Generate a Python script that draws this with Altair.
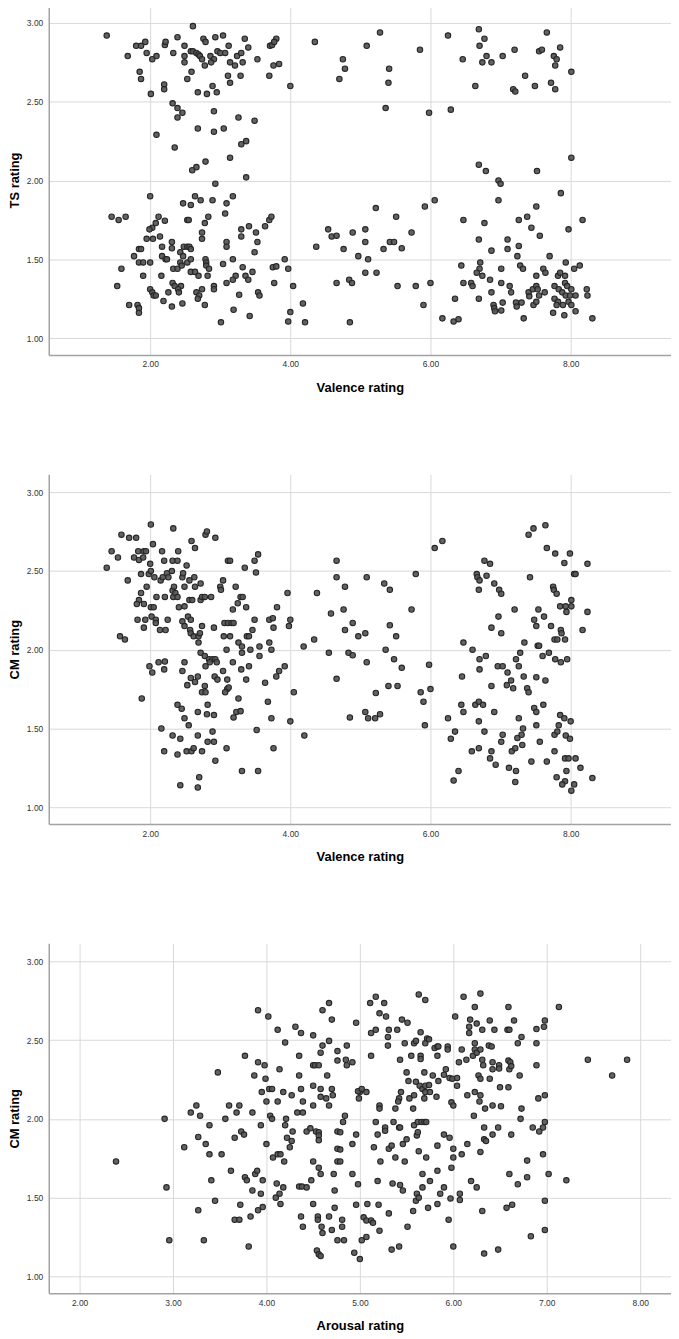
import altair as alt
import pandas as pd

# Panel 1: Valence rating vs TS rating
panel1_points = [
(1.38,2.92),(2.61,2.98),(2.39,2.91),(2.76,2.90),(2.93,2.91),(3.04,2.92),(3.35,2.90),(3.80,2.90),(4.35,2.88),(2.79,2.88),
(1.80,2.855),(1.87,2.855),(1.93,2.88),(2.21,2.86),(2.22,2.88),(2.49,2.855),(3.12,2.855),(3.40,2.845),(3.71,2.855),(3.74,2.86),(3.77,2.88),
(1.95,2.81),(2.33,2.81),(2.58,2.82),(2.61,2.82),(2.66,2.81),(2.69,2.80),(2.71,2.79),(2.96,2.82),(3.00,2.81),(3.07,2.81),(3.24,2.79),(3.30,2.81),
(1.68,2.79),(2.03,2.77),(2.09,2.79),(2.49,2.79),(2.49,2.75),(2.74,2.77),(2.86,2.79),(2.91,2.77),(2.87,2.75),(2.78,2.73),(3.14,2.75),(3.21,2.73),(3.32,2.75),(3.53,2.77),(3.76,2.73),(3.84,2.74),
(1.85,2.69),(1.87,2.645),(2.59,2.69),(2.53,2.645),(3.11,2.665),(3.14,2.62),(3.29,2.665),(3.70,2.665),(2.20,2.61),(2.20,2.58),(2.89,2.60),(2.68,2.56),(2.81,2.55),(2.95,2.56),(4.00,2.60),(2.01,2.55),
(2.32,2.49),(2.39,2.46),(2.46,2.43),(2.39,2.40),(2.91,2.44),(3.26,2.40),(3.49,2.38),(2.68,2.33),(2.91,2.31),(3.05,2.33),(2.09,2.29),(3.37,2.25),(3.30,2.23),(2.35,2.21),(3.14,2.145),(2.79,2.12),(2.66,2.085),(2.60,2.065),(3.37,2.02),(2.93,1.98),
(2.00,1.90),(2.64,1.90),(2.72,1.875),(2.89,1.875),(3.18,1.90),(2.47,1.855),(2.58,1.845),(3.09,1.855),(3.07,1.79),
(1.45,1.77),(1.55,1.75),(1.65,1.77),(2.12,1.77),(2.21,1.745),(2.53,1.75),(2.55,1.75),(2.83,1.77),(2.78,1.73),(2.74,1.67),(2.74,1.63),(2.08,1.73),(2.03,1.70),(1.99,1.69),(1.95,1.63),(2.14,1.645),(2.04,1.63),(3.30,1.69),(3.30,1.645),(3.41,1.71),(3.51,1.67),(3.64,1.71),(3.70,1.75),(3.73,1.77),
(3.09,1.61),(3.09,1.58),(3.53,1.61),(3.49,1.545),(2.17,1.58),(2.31,1.61),(2.31,1.57),(2.48,1.58),(2.53,1.58),(2.56,1.58),(2.58,1.565),(2.43,1.545),(2.47,1.52),(1.84,1.565),(1.87,1.565),(1.77,1.52),(2.17,1.52),(2.22,1.50),(2.24,1.50),
(1.84,1.48),(1.90,1.48),(2.00,1.48),(2.43,1.48),(2.53,1.48),(2.58,1.50),(2.79,1.50),(2.80,1.48),(2.80,1.46),(2.84,1.44),(3.18,1.50),(3.04,1.47),(3.92,1.50),(3.97,1.44),(1.59,1.44),(2.33,1.44),(2.39,1.44),(2.45,1.46),(3.32,1.45),(3.46,1.42),(3.75,1.45),(3.80,1.455),
(1.90,1.395),(2.16,1.395),(2.58,1.42),(2.64,1.42),(2.69,1.395),(2.82,1.395),(3.22,1.395),(3.36,1.395),(3.40,1.37),(3.18,1.37),(3.09,1.35),(3.77,1.35),(1.53,1.33),(2.32,1.35),(2.35,1.33),(2.44,1.33),
(2.00,1.31),(2.03,1.29),(2.05,1.27),(2.08,1.27),(2.40,1.31),(2.41,1.29),(2.26,1.29),(2.91,1.33),(2.91,1.31),(2.66,1.29),(2.74,1.31),(2.70,1.27),(2.68,1.25),(3.27,1.275),(3.54,1.29),(3.56,1.27),(4.04,1.33),
(2.19,1.235),(1.70,1.21),(1.82,1.21),(1.84,1.19),(1.84,1.16),(2.31,1.20),(2.46,1.22),(2.78,1.21),(3.19,1.18),(3.42,1.14),(4.18,1.22),(4.00,1.165),(3.97,1.105),(4.21,1.10),(3.01,1.10),
(4.37,1.58),(4.54,1.69),(4.59,1.645),(4.66,1.65),(4.66,1.35),(4.70,2.645),
(4.75,2.77),(4.78,2.71),(5.09,2.855),(5.28,2.94),(5.41,2.71),(5.40,2.62),(5.36,2.46),(5.85,2.83),(5.98,2.43),(6.25,2.92),(6.29,2.45),(6.46,2.77),(6.64,2.60),(6.69,2.96),(6.70,2.855),(6.77,2.90),(6.74,2.75),(6.80,2.79),(6.87,2.75),(7.03,2.79),(7.20,2.83),(7.18,2.58),(7.21,2.565),(7.35,2.665),(7.49,2.60),(7.55,2.82),(7.59,2.83),(7.66,2.94),(7.72,2.62),(7.76,2.79),(7.80,2.77),(7.78,2.73),(7.78,2.58),(7.85,2.845),(8.01,2.69),
(8.01,2.145),(6.69,2.10),(6.79,2.06),(6.97,2.00),(7.00,1.98),(6.97,1.875),(7.52,2.06),(7.86,1.92),(6.06,1.875),(5.92,1.835),(5.22,1.825),(5.51,1.77),(4.89,1.67),(5.07,1.69),(5.07,1.61),(4.76,1.565),(4.97,1.52),(5.11,1.50),(5.33,1.565),(5.42,1.61),(5.48,1.61),(5.59,1.57),(5.73,1.67),(5.07,1.415),(5.23,1.415),(4.84,1.37),(4.88,1.35),(5.53,1.33),(5.79,1.33),(6.00,1.35),(5.90,1.21),(4.85,1.10),
(6.47,1.75),(6.77,1.73),(6.69,1.625),(6.87,1.555),(7.10,1.625),(7.10,1.565),(7.26,1.75),(7.38,1.77),(7.44,1.70),(7.51,1.835),(7.56,1.65),(7.26,1.585),(7.24,1.52),(7.70,1.52),(7.97,1.69),(8.17,1.75),
(6.44,1.46),(6.71,1.48),(6.70,1.44),(6.66,1.415),(6.74,1.395),(6.85,1.37),(7.01,1.44),(7.28,1.46),(7.32,1.44),(6.47,1.35),(6.58,1.35),(6.60,1.33),(7.01,1.35),(7.13,1.33),(7.15,1.29),(6.87,1.29),(6.69,1.25),(6.35,1.25),(6.17,1.125),(6.33,1.105),(6.40,1.12),
(6.90,1.21),(6.91,1.19),(6.92,1.17),(7.01,1.175),(7.03,1.225),(7.22,1.225),(7.23,1.20),(7.30,1.225),(7.33,1.125),(7.40,1.29),(7.41,1.265),(7.47,1.21),(7.51,1.23),(7.46,1.31),(7.51,1.33),(7.53,1.31),(7.55,1.27),(7.63,1.29),(7.51,1.395),(7.61,1.44),(7.64,1.415),(7.82,1.395),(7.85,1.415),(7.93,1.48),(8.05,1.44),(8.13,1.46),
(7.77,1.33),(7.83,1.31),(7.92,1.35),(7.95,1.33),(8.01,1.31),(7.88,1.29),(7.93,1.27),(7.99,1.27),(8.07,1.27),(7.77,1.25),(7.82,1.23),(7.89,1.21),(7.97,1.23),(8.01,1.21),(7.80,1.21),(7.75,1.16),(7.91,1.145),(8.07,1.17),(8.23,1.31),(8.24,1.27),(8.31,1.125),(7.92,1.395),
]

# Panel 2: Valence rating vs CM rating
panel2_points = [
(1.38,2.52),(1.45,2.625),(1.54,2.585),(1.59,2.73),(1.68,2.44),(1.70,2.71),(1.80,2.71),(1.77,2.585),(1.83,2.625),(1.84,2.57),(1.90,2.585),(1.91,2.625),(1.94,2.625),(1.87,2.48),(1.98,2.48),(2.00,2.545),(2.01,2.50),(2.01,2.795),(2.04,2.67),(1.95,2.40),(1.87,2.36),(1.84,2.315),(1.81,2.29),(1.91,2.29),(2.01,2.27),(2.05,2.27),(2.02,2.21),(2.08,2.19),(2.08,2.17),(1.82,2.19),(1.93,2.19),(1.91,2.14),(1.57,2.085),(1.64,2.065),
(2.06,2.46),(2.09,2.335),(2.17,2.625),(2.20,2.565),(2.15,2.44),(2.18,2.46),(2.24,2.485),(2.26,2.46),(2.21,2.335),(2.31,2.50),(2.32,2.565),(2.33,2.77),(2.39,2.565),(2.40,2.625),(2.32,2.375),(2.34,2.40),(2.33,2.335),(2.36,2.36),(2.39,2.335),(2.41,2.27),(2.46,2.46),(2.47,2.485),(2.52,2.535),(2.49,2.40),(2.49,2.275),
(2.25,2.19),(2.14,2.125),(2.22,2.125),(2.46,2.18),(2.49,2.15),(2.54,2.21),(2.58,2.19),(2.56,2.315),(2.60,2.315),(2.56,2.44),(2.63,2.46),(2.64,2.40),(2.59,2.69),(2.64,2.645),(2.72,2.42),(2.72,2.315),(2.74,2.335),(2.78,2.335),(2.87,2.335),(3.04,2.44),(3.00,2.40),(3.01,2.38),(3.11,2.565),(3.14,2.565),(3.35,2.52),(3.22,2.40),(3.49,2.565),(3.54,2.605),(3.51,2.49),(2.79,2.73),(2.81,2.75),(2.93,2.71),
(2.57,2.125),(2.58,2.105),(2.62,2.085),(2.69,2.085),(2.71,2.105),(2.69,2.045),(2.74,2.15),(2.91,2.14),(2.72,1.98),(2.78,1.96),(2.84,1.94),(2.89,1.94),(2.93,1.94),(2.95,1.92),(2.85,1.92),(2.79,1.895),
(3.05,2.085),(3.06,2.17),(3.11,2.17),(3.16,2.17),(3.19,2.17),(3.14,2.085),(3.18,2.255),(3.25,2.295),(3.29,2.335),(3.32,2.335),(3.37,2.27),(3.09,2.00),(3.26,2.045),(3.31,2.02),(3.31,1.98),(3.38,2.085),(3.41,2.085),(3.43,2.00),(3.46,2.125),(3.49,2.19),(3.56,2.02),(3.56,1.96),(3.70,2.045),(3.73,2.00),(3.70,2.19),(3.75,2.20),(3.81,2.27),(3.76,2.14),(3.96,2.36),(4.00,2.19),(3.98,2.15),
(3.92,1.895),(3.84,1.865),(3.80,1.83),(3.64,1.79),(3.68,1.67),(3.73,1.565),(3.76,1.375),(4.05,1.73),(4.00,1.545),(4.20,1.455),(4.19,2.02),(4.34,2.065),(4.38,2.36),(4.58,2.23),(4.55,1.98),(4.66,2.565),(4.66,2.46),(4.66,1.815),
(1.99,1.895),(2.03,1.855),(2.12,1.92),(2.21,1.925),(2.20,1.875),(1.88,1.69),(2.49,1.92),(2.46,1.865),(2.58,1.82),(2.64,1.795),(2.68,1.83),(2.53,1.775),(2.78,1.77),(2.74,1.73),(2.79,1.73),(2.82,1.65),(2.68,1.605),(2.81,1.59),(2.91,1.585),(2.92,1.83),(2.96,1.81),(3.04,1.865),(3.10,1.81),(3.10,1.75),(3.12,1.76),(3.07,1.73),(3.18,1.92),(3.30,1.875),(3.37,1.81),(3.41,1.895),(3.26,1.69),(3.23,1.605),(3.19,1.57),(3.29,1.61),
(2.39,1.65),(2.45,1.625),(2.49,1.565),(2.55,1.52),(2.16,1.50),(2.32,1.455),(2.43,1.435),(2.68,1.455),(2.89,1.48),(2.82,1.415),(2.91,1.415),(3.09,1.375),(2.20,1.355),(2.39,1.335),(2.52,1.355),(2.59,1.355),(2.62,1.375),(2.74,1.355),(2.93,1.295),(3.52,1.49),(3.31,1.23),(3.54,1.23),(2.70,1.19),(2.68,1.125),(2.43,1.14),
(4.78,2.40),(4.76,2.255),(4.78,2.125),(4.89,2.17),(4.97,2.085),(5.07,2.105),(4.83,1.98),(4.89,1.965),(5.09,1.92),(5.09,2.46),(5.34,2.42),(5.42,2.38),(5.42,2.155),(5.51,2.085),(5.36,2.00),(5.48,1.94),(5.59,1.885),(5.40,1.77),(5.53,1.77),(5.22,1.725),(4.85,1.57),(5.07,1.605),(5.11,1.565),(5.21,1.565),(5.28,1.59),(5.73,2.255),(5.79,2.48),(6.06,2.645),(6.17,2.69),(5.98,1.905),(5.86,1.73),(5.90,1.67),(6.00,1.75),(5.92,1.52),
(6.25,1.565),(6.35,1.48),(6.29,1.435),(6.44,1.65),(6.47,1.605),(6.45,1.83),(6.47,2.045),(6.60,2.00),(6.70,1.94),(6.70,1.875),(6.79,1.96),(6.87,1.77),(6.64,1.65),(6.69,1.67),(6.75,1.65),(6.69,1.545),(6.91,1.605),(6.77,1.48),(7.03,1.46),(7.01,1.415),(6.59,1.355),(6.69,1.375),(6.87,1.355),(6.85,1.31),(6.93,1.27),
(6.77,2.565),(6.85,2.545),(6.66,2.48),(6.67,2.46),(6.70,2.44),(6.80,2.47),(6.91,2.42),(6.69,2.38),(6.98,2.38),(7.01,2.355),(6.97,2.21),(6.87,2.14),(7.01,2.105),(7.20,2.255),(7.42,2.46),(7.40,2.73),(7.47,2.77),(7.64,2.79),(7.66,2.645),(7.78,2.61),(7.99,2.61),(7.91,2.55),(8.24,2.545),(8.05,2.48),(8.07,2.48),(7.75,2.40),(7.76,2.38),(7.80,2.355),(7.85,2.275),(7.93,2.275),(7.94,2.24),(8.01,2.315),(8.01,2.275),(8.24,2.24),(8.17,2.125),
(7.54,2.255),(7.48,2.19),(7.51,2.15),(7.62,2.21),(7.72,2.15),(7.86,2.125),(7.87,2.105),(7.77,2.065),(7.81,2.065),(7.92,2.065),(7.34,2.045),(7.28,1.98),(7.22,1.94),(7.26,1.895),(7.53,2.025),(7.55,2.025),(7.60,1.96),(7.69,1.98),(7.78,1.94),(7.86,1.92),(7.95,1.94),
(6.96,1.895),(7.03,1.895),(7.10,1.855),(7.15,1.805),(7.09,1.775),(7.18,1.755),(7.33,1.83),(7.38,1.755),(7.40,1.73),(7.51,1.825),(7.64,1.805),(7.61,1.65),(7.48,1.63),(7.51,1.605),(7.26,1.565),(7.32,1.50),(7.51,1.52),(7.24,1.44),(7.30,1.46),(7.31,1.395),(7.16,1.355),(7.21,1.375),(7.12,1.25),(7.22,1.23),(7.21,1.16),(7.44,1.29),(7.56,1.415),(7.66,1.29),(7.77,1.355),(7.77,1.46),(7.81,1.48),(7.83,1.52),(7.85,1.585),(7.91,1.565),(8.00,1.545),(7.93,1.455),(7.99,1.435),(7.92,1.31),(7.97,1.31),(8.07,1.31),(8.14,1.25),(7.94,1.23),(7.80,1.19),(7.92,1.165),(7.88,1.145),(8.05,1.145),(8.01,1.105),(8.31,1.185),(6.33,1.17),(6.40,1.23),
]

# Panel 3: Arousal rating vs CM rating
panel3_points = [
(2.39,1.73),(2.91,2.00),(2.93,1.565),(2.96,1.23),(3.12,1.82),(3.19,2.04),(3.25,2.085),(3.29,2.02),(3.27,1.885),(3.27,1.42),(3.33,1.23),(3.35,1.84),(3.39,1.96),(3.39,1.775),(3.41,1.61),(3.45,1.48),(3.48,2.295),(3.52,1.775),(3.56,2.00),(3.60,2.085),(3.62,1.67),(3.66,1.88),(3.68,2.04),(3.71,2.085),(3.66,1.36),(3.71,1.36),(3.73,1.92),(3.76,1.90),(3.72,1.455),(3.77,2.40),(3.77,1.63),(3.79,1.61),(3.81,1.19),(3.83,1.38),(3.85,2.04),(3.87,2.275),(3.85,1.545),(3.88,1.65),(3.90,1.67),
(3.91,2.69),(3.91,2.36),(3.94,1.96),(3.94,1.525),(3.91,1.42),(3.96,1.44),(3.95,2.17),(3.96,1.61),(3.98,2.34),(3.99,2.255),(4.00,2.11),(4.00,1.84),(4.02,2.65),(4.03,2.19),(4.06,2.19),(4.04,2.02),(4.06,2.00),(4.07,1.755),(4.12,2.565),(4.14,2.315),(4.12,2.11),(4.12,1.775),(4.15,1.775),(4.11,1.59),(4.10,1.50),(4.14,1.525),(4.15,1.46),
(4.18,2.17),(4.20,2.485),(4.21,2.00),(4.20,1.96),(4.22,1.88),(4.27,1.86),(4.25,1.82),(4.19,1.73),(4.18,1.565),(4.27,2.15),(4.28,1.92),(4.31,2.585),(4.33,2.04),(4.35,2.40),(4.35,2.275),(4.37,2.545),(4.37,2.19),(4.39,2.11),(4.39,2.04),(4.35,1.57),(4.38,1.57),(4.43,1.565),(4.37,1.38),(4.39,1.315),(4.43,1.92),(4.47,1.94),(4.48,1.61),
(4.50,2.53),(4.50,2.34),(4.50,2.21),(4.50,2.085),(4.52,2.34),(4.50,1.73),(4.50,1.46),(4.53,1.92),(4.56,1.915),(4.56,1.895),(4.56,2.34),(4.56,1.69),(4.56,1.865),(4.58,2.42),(4.58,2.19),(4.58,2.14),(4.58,1.65),(4.55,1.38),(4.55,1.36),(4.54,1.165),(4.56,1.14),(4.58,1.13),(4.59,1.315),(4.60,1.275),(4.60,2.69),(4.60,2.465),(4.64,2.13),(4.67,2.735),(4.67,2.495),(4.65,2.275),(4.67,2.085),(4.67,1.38),(4.70,2.63),(4.70,2.19),(4.71,2.15),(4.70,1.295),(4.72,1.65),(4.73,1.545),(4.73,1.435),(4.76,2.43),(4.76,2.37),(4.76,1.92),(4.76,1.81),(4.76,1.73),(4.76,1.23),
(4.85,2.375),(4.86,2.34),(4.92,2.36),(4.86,2.465),(4.96,2.61),(5.00,2.17),(4.99,2.13),(4.98,2.175),(5.02,2.19),(5.07,2.17),(4.84,2.02),(4.82,1.98),(4.79,1.915),(4.96,1.90),(4.92,1.84),(4.79,1.805),(4.79,1.73),(4.92,1.65),(4.98,1.585),(4.81,1.36),(4.81,1.315),(4.83,1.23),(4.96,1.455),(4.94,1.15),(5.00,1.11),(5.02,1.23),(5.07,1.25),(5.04,1.375),(5.07,1.355),(5.12,1.355),(5.14,1.34),(5.08,1.46),(5.20,1.455),(5.21,1.29),
(5.11,2.735),(5.17,2.775),(5.21,2.67),(5.26,2.735),(5.28,2.65),(5.12,2.545),(5.17,2.565),(5.12,2.40),(5.30,2.52),(5.31,2.565),(5.30,2.465),(5.40,2.565),(5.45,2.63),(5.51,2.61),(5.48,2.48),(5.43,2.375),(5.55,2.40),(5.58,2.48),(5.60,2.495),(5.65,2.55),(5.63,2.79),(5.70,2.755),(5.65,2.40),(5.65,2.38),(5.70,2.48),(5.72,2.51),(5.74,2.505),(5.80,2.45),(5.83,2.46),(5.84,2.46),(5.94,2.46),(5.94,2.44),(5.83,2.40),
(5.50,2.295),(5.52,2.24),(5.69,2.295),(5.60,2.235),(5.64,2.21),(5.67,2.19),(5.70,2.21),(5.74,2.215),(5.78,2.275),(5.70,2.17),(5.75,2.17),(5.69,2.13),(5.82,2.14),(5.84,2.24),(5.90,2.28),(5.92,2.315),(5.96,2.26),(5.99,2.255),(6.04,2.26),(6.04,2.21),(5.98,2.105),(6.00,2.085),
(5.44,2.17),(5.42,2.13),(5.41,2.11),(5.38,2.065),(5.53,2.13),(5.58,2.15),(5.57,2.065),(5.21,2.085),(5.21,2.065),(5.17,1.98),(5.27,1.945),(5.27,1.925),(5.19,1.90),(5.36,1.98),(5.42,1.945),(5.43,1.945),(5.58,1.96),(5.61,1.895),(5.62,1.98),(5.66,1.98),(5.69,1.98),(5.71,1.98),(5.62,1.915),(5.50,1.87),(5.46,1.84),
(5.15,1.82),(5.31,1.81),(5.34,1.83),(5.22,1.73),(5.38,1.755),(5.48,1.73),(5.63,1.795),(5.71,1.755),(5.83,1.83),(5.90,1.90),(5.96,1.88),(6.00,1.81),(6.00,1.755),(5.98,1.69),(6.09,1.775),(6.15,1.84),(5.83,1.67),(5.67,1.65),(5.75,1.605),(5.67,1.565),(5.19,1.605),(5.35,1.59),(5.43,1.58),(5.46,1.545),(5.61,1.525),(5.60,1.48),(5.63,1.50),(5.86,1.525),(5.90,1.565),(5.97,1.495),(6.07,1.525),(6.07,1.485),(5.83,1.46),(5.73,1.435),(5.57,1.415),(5.31,1.40),(5.51,1.315),(5.95,1.36),(5.34,1.17),(5.42,1.19),(6.00,1.19),
(6.11,2.775),(6.29,2.795),(6.02,2.65),(6.23,2.71),(6.18,2.63),(6.25,2.605),(6.39,2.625),(6.17,2.585),(6.17,2.545),(6.31,2.565),(6.44,2.565),(6.59,2.71),(6.65,2.625),(6.58,2.565),(6.60,2.565),(6.73,2.52),(6.69,2.48),(6.89,2.57),(6.97,2.585),(6.98,2.625),(6.89,2.48),
(6.23,2.48),(6.09,2.44),(6.23,2.44),(6.21,2.40),(6.25,2.42),(6.29,2.44),(6.14,2.375),(6.06,2.36),(6.31,2.375),(6.32,2.34),(6.38,2.465),(6.41,2.46),(6.42,2.36),(6.42,2.315),(6.49,2.34),(6.49,2.32),(6.59,2.37),(6.61,2.36),(6.60,2.315),(6.62,2.335),(6.71,2.275),(6.89,2.34),
(6.27,2.275),(6.29,2.255),(6.39,2.255),(6.50,2.20),(6.59,2.20),(6.23,2.17),(6.15,2.15),(6.29,2.15),(6.28,2.11),(6.34,2.065),(6.42,2.085),(6.51,2.08),(6.22,2.02),(6.73,2.065),(6.72,2.00),(6.91,2.13),(6.98,2.15),(6.98,1.98),
(6.33,1.945),(6.48,1.945),(6.33,1.87),(6.35,1.86),(6.42,1.90),(6.62,1.90),(6.85,1.945),(6.92,1.92),(6.96,1.945),(6.29,1.79),(6.96,1.775),(6.79,1.735),(7.02,1.65),(7.21,1.61),(6.60,1.65),(6.69,1.585),(6.79,1.63),(6.19,1.605),(6.25,1.565),(6.98,1.48),(6.63,1.455),(6.57,1.435),(6.31,1.415),(6.83,1.255),(6.98,1.295),(6.33,1.145),(6.48,1.17),
(7.13,2.71),(7.44,2.375),(7.70,2.275),(7.86,2.375),
]

p1 = pd.DataFrame(panel1_points, columns=["x", "y"])
p2 = pd.DataFrame(panel2_points, columns=["x", "y"])
p3 = pd.DataFrame(panel3_points, columns=["x", "y"])

y_domain = [0.893, 3.114]
y_ticks = [1.0, 1.5, 2.0, 2.5, 3.0]


def panel(df, xtitle, ytitle, xdomain, xticks):
    return alt.Chart(df).mark_circle(
        size=30, fill="#555555", fillOpacity=0.92, stroke="#262626", strokeWidth=1.1, opacity=1
    ).encode(
        x=alt.X("x:Q", scale=alt.Scale(domain=xdomain, nice=False, zero=False),
                axis=alt.Axis(title=xtitle, values=xticks, format=".2f")),
        y=alt.Y("y:Q", scale=alt.Scale(domain=y_domain, nice=False, zero=False),
                axis=alt.Axis(title=ytitle, values=y_ticks, format=".2f")),
    ).properties(width=626, height=352)


c1 = panel(p1, "Valence rating", "TS rating", [0.553, 9.432], [2, 4, 6, 8])
c2 = panel(p2, "Valence rating", "CM rating", [0.553, 9.432], [2, 4, 6, 8])
c3 = panel(p3, "Arousal rating", "CM rating", [1.670, 8.330], [2, 3, 4, 5, 6, 7, 8])

chart = alt.vconcat(c1, c2, c3, spacing=80).properties(
    padding={"left": 0, "top": -7, "right": 0, "bottom": 0}
).configure_view(stroke=None).configure_axis(
    domainColor="#a3a3a3", domainWidth=1.5,
    gridColor="#d9d9d9", gridWidth=1,
    ticks=False, tickSize=0,
    labelFont="Liberation Sans", labelFontSize=8.5, labelColor="#333333", labelPadding=5,
    titleFont="Liberation Sans", titleFontSize=13, titleFontWeight="bold", titleColor="#000000",
).configure_axisX(titlePadding=13).configure_axisY(titlePadding=5, labelPadding=6)

chart.save("out.html", embed_options={"renderer": "svg", "actions": False})
